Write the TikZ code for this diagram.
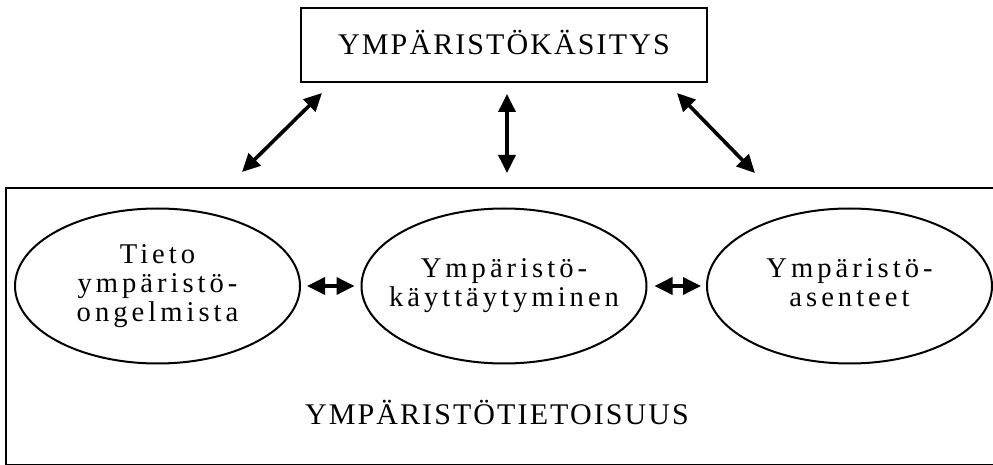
\documentclass[tikz,border=0pt]{standalone}
\usepackage{fontspec}
\setmainfont{Liberation Serif}
\newfontfamily\capsfont[LetterSpace=7]{Liberation Serif}
\newfontfamily\ovalfont[LetterSpace=14]{Liberation Serif}
\usetikzlibrary{arrows.meta,shapes.geometric}
\begin{document}
\begin{tikzpicture}[x=0.5pt,y=-0.5pt,>={Triangle[length=9pt,width=8.5pt]},
  dbl/.style={<->,line width=1.8pt},
  oval/.style={draw,ellipse,line width=1pt,minimum width=142.5pt,minimum height=77.5pt,
    inner xsep=-20pt,inner ysep=-15pt,align=center,text depth=3pt,font=\ovalfont\fontsize{14.3}{14.5}\selectfont},
  title/.style={font=\capsfont\fontsize{15}{18}\selectfont,text height=10pt,text depth=0pt}]
\useasboundingbox (0,0) rectangle (993,465);
\clip (0,0) rectangle (993,465);
\coordinate (L1) at (322,93);
\coordinate (L2) at (242,172);
\coordinate (M1) at (507,94);
\coordinate (M2) at (507,173);
\coordinate (R1) at (677,93);
\coordinate (R2) at (755,173);
% The frames
\node[title,draw,line width=1.3pt,minimum width=203pt,minimum height=37pt,inner sep=0pt]
  (kasitys) at (504,45) {YMPÄRISTÖKÄSITYS};
\draw[line width=1.25pt] (6,188) rectangle (1005,465.5);
\node[title] (tietoisuus) at (497,415) {YMPÄRISTÖTIETOISUUS};

% The ovals
\node[oval] (tieto) at (157.5,286) {Tieto\\ympäristö-\\ongelmista};
\node[oval] (kaytt) at (504,286) {Ympäristö-\\käyttäytyminen};
\node[oval] (asent) at (849.5,286) {Ympäristö-\\asenteet};

% The arrows
\draw[dbl] (L1) -- (L2);
\draw[dbl] (M1) -- (M2);
\draw[dbl] (R1) -- (R2);
\draw[dbl,shorten <=3pt,shorten >=3pt] (tieto) -- (kaytt);
\draw[dbl,shorten <=3.5pt,shorten >=2.5pt] (kaytt) -- (asent);
\end{tikzpicture}
\end{document}
